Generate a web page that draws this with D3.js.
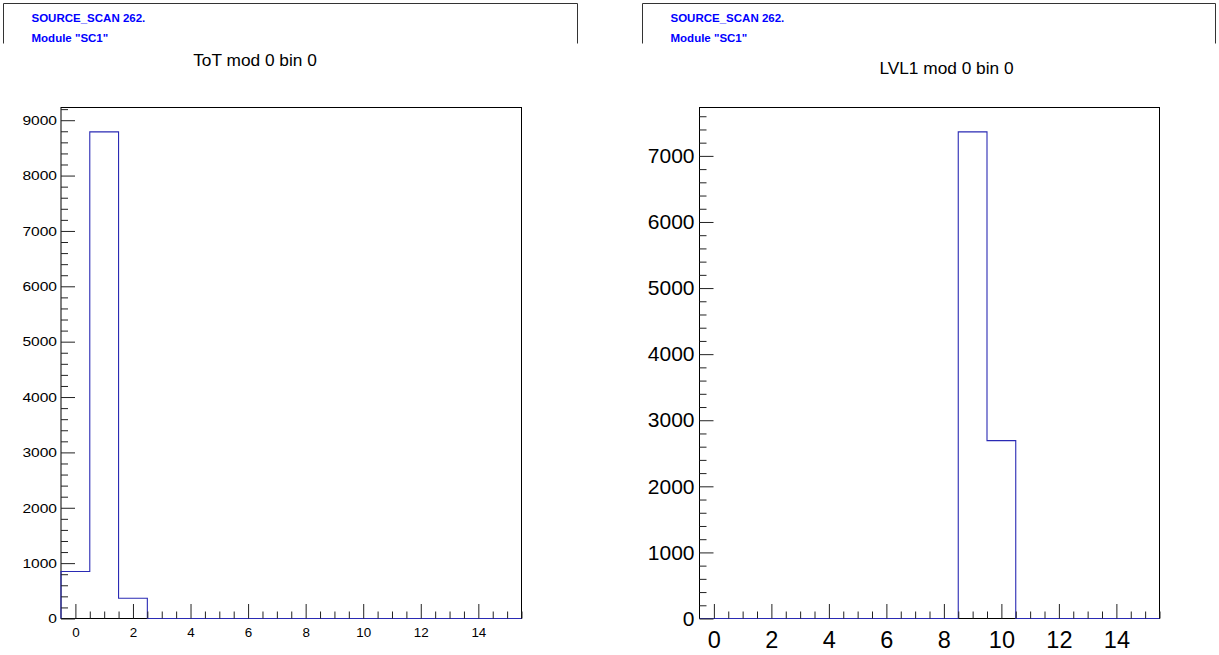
<!DOCTYPE html>
<html>
<head>
<meta charset="utf-8">
<script src="https://cdn.jsdelivr.net/npm/d3@7"></script>
<style>
  html, body { margin: 0; padding: 0; background: #fff; }
  svg { display: block; font-family: "Liberation Sans", Arial, Helvetica, sans-serif; }
</style>
</head>
<body>
<svg id="c" width="1219" height="655"></svg>
<script>
// ---- data ----
const binEdgesLow = [-0.5, 0.5, 1.5, 2.5, 3.5, 4.5, 5.5, 6.5, 7.5, 8.5, 9.5, 10.5, 11.5, 12.5, 13.5, 14.5];
const binWidth = 1;
const totValues  = [850, 8790, 367, 0, 0, 0, 0, 0, 0, 0, 0, 0, 0, 0, 0, 0];
const lvl1Values = [0, 0, 0, 0, 0, 0, 0, 0, 0, 7364, 2691, 0, 0, 0, 0, 0];
const xTickValues = [0, 2, 4, 6, 8, 10, 12, 14];
const totYTicks  = [0, 1000, 2000, 3000, 4000, 5000, 6000, 7000, 8000, 9000];
const lvl1YTicks = [0, 1000, 2000, 3000, 4000, 5000, 6000, 7000];
const headerLines = ["SOURCE_SCAN 262.", "Module \"SC1\""];
const titles = ["ToT mod 0 bin 0", "LVL1 mod 0 bin 0"];

const svg = d3.select("#c");
const histColor = "#2a2ab4";

function panel(opt) {
  const g = svg.append("g");
  // header box (open at bottom)
  g.append("path")
    .attr("d", `M${opt.hx0},43.5 V3.5 H${opt.hx1} V43.5`)
    .attr("fill", "none").attr("stroke", "#333").attr("stroke-width", 1);
  headerLines.forEach((t, i) => {
    g.append("text").attr("x", opt.hx0 + 28).attr("y", 22 + i * 20)
      .attr("font-size", 11.5).attr("font-weight", "bold").attr("fill", "#0000ff").text(t);
  });
  // title
  g.append("text").attr("x", opt.tx).attr("y", opt.ty).attr("text-anchor", "middle")
    .attr("font-size", 17.3).attr("fill", "#000").text(opt.title);

  const x = d3.scaleLinear().domain([-0.5, 15.5]).range([opt.x0, opt.x1]);
  const ymax = d3.max(opt.values) * 1.05;
  const y = d3.scaleLinear().domain([0, ymax]).range([618.5, 107.5]);

  // frame
  g.append("rect").attr("x", opt.x0).attr("y", 107.5)
    .attr("width", opt.x1 - opt.x0).attr("height", 618.5 - 107.5)
    .attr("fill", "none").attr("stroke", "#000").attr("stroke-width", 1);

  // histogram outline
  const pts = [[-0.5, 0]];
  opt.values.forEach((v, i) => { pts.push([binEdgesLow[i], v]); pts.push([binEdgesLow[i] + binWidth, v]); });
  pts.push([15.5, 0]);
  const line = d3.line().x(d => x(d[0])).y(d => y(d[1]));
  g.append("path").attr("d", line(pts)).attr("fill", "none")
    .attr("stroke", histColor).attr("stroke-width", 1.1);

  // y minor ticks
  const yMinor = d3.range(0, ymax, 200).filter(v => v % 1000 !== 0);
  g.append("g").attr("transform", `translate(${opt.x0},0)`)
    .call(d3.axisRight(y).tickValues(yMinor).tickSize(7).tickFormat(""))
    .call(s => s.select(".domain").remove())
    .selectAll("line").attr("stroke", "#222");
  // y major
  const ya = g.append("g").attr("transform", `translate(${opt.x0},0)`)
    .call(d3.axisLeft(y).tickValues(opt.yTicks).tickSizeInner(-14).tickSizeOuter(0).tickPadding(3).tickFormat(d3.format("d")));
  ya.select(".domain").remove();
  ya.selectAll("line").attr("stroke", "#222");
  ya.selectAll("text").attr("font-family", "Liberation Sans, Arial, sans-serif")
    .attr("font-size", opt.yFont).attr("fill", "#000")
    .attr("x", -opt.yPad / opt.yScale)
    .attr("transform", `scale(${opt.yScale},1)`);

  // x minor ticks
  const xMinor = d3.range(-0.5, 15.51, 0.5).filter(v => v % 2 !== 0 && v > -0.5);
  g.append("g").attr("transform", `translate(0,618.5)`)
    .call(d3.axisTop(x).tickValues(xMinor).tickSize(7).tickFormat(""))
    .call(s => s.select(".domain").remove())
    .selectAll("line").attr("stroke", "#222");
  // x major
  const xa = g.append("g").attr("transform", `translate(0,618.5)`)
    .call(d3.axisBottom(x).tickValues(xTickValues).tickSizeInner(-14.5).tickSizeOuter(0).tickFormat(d3.format("d")));
  xa.select(".domain").remove();
  xa.selectAll("line").attr("stroke", "#222");
  xa.selectAll("text").attr("font-family", "Liberation Sans, Arial, sans-serif")
    .attr("font-size", opt.xFont).attr("fill", "#000")
    .attr("dy", null).attr("y", opt.xBase);
}

panel({ hx0: 3.5, hx1: 577.5, tx: 255, ty: 66, title: titles[0],
        x0: 61, x1: 521.5, values: totValues, yTicks: totYTicks,
        yFont: 13.3, yScale: 1.17, yPad: 4, xFont: 13.4, xBase: 18.8 });
panel({ hx0: 642.5, hx1: 1215.5, tx: 946.5, ty: 74, title: titles[1],
        x0: 699.5, x1: 1159.5, values: lvl1Values, yTicks: lvl1YTicks,
        yFont: 21, yScale: 1.0, yPad: 5, xFont: 23.5, xBase: 29 });
</script>
</body>
</html>
